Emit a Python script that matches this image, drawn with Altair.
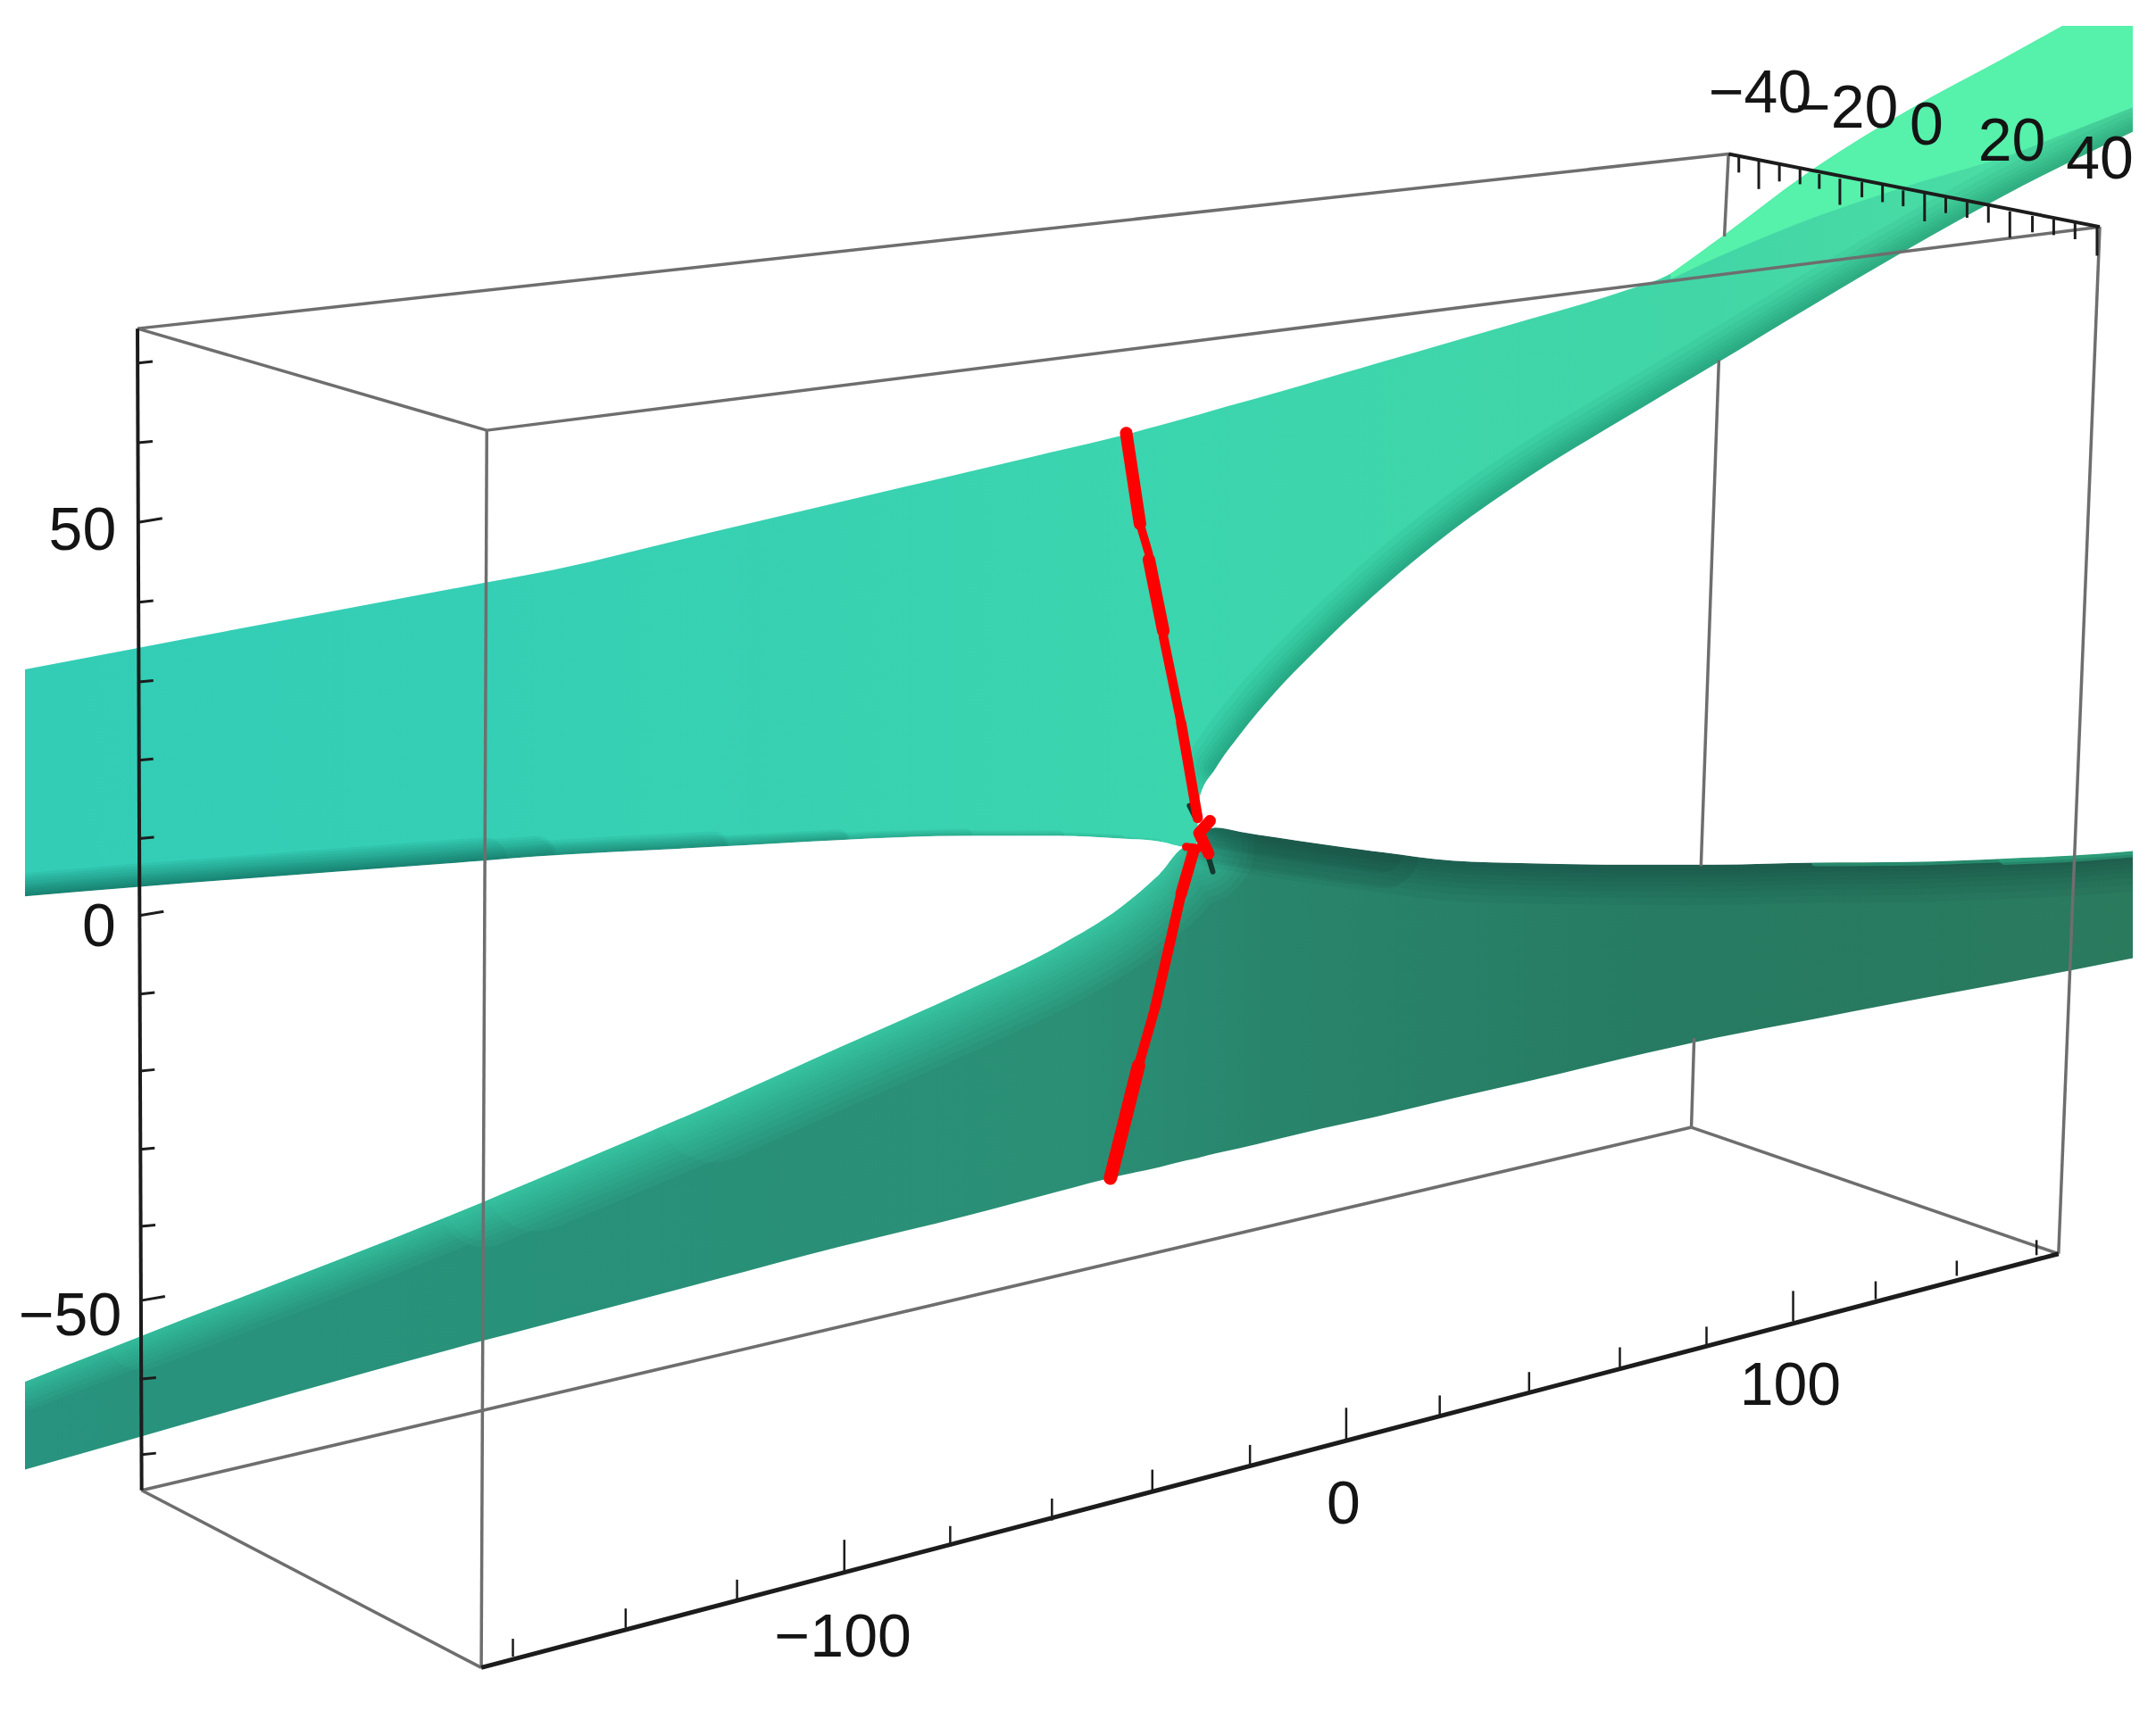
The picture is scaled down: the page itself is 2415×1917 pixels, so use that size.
import altair as alt
import pandas as pd

# All coordinates (projected 3D box, in picture units)
DOM_X = [18.18, 1551]
DOM_Y = [1240, 18.83]

# Both sheets, read at the same x positions
sheet_x = [18, 102, 352, 390, 519, 610, 702, 770, 815, 843, 863, 870, 872, 884, 902, 927, 961, 1006, 1056, 1113, 1180, 1215, 1247, 1320, 1388, 1458, 1505, 1551]
up_top = [487, 471, 424, 417, 386.7, 365.3, 343.7, 327.7, 317, 309.5, 304, 302, 301.5, 298, 293, 286, 276, 263, 248.5, 232, 212, 199, 176, 122, 80, 42, 16, -9]
up_bot = [652, 645, 626, 623, 616, 611, 608, 608, 610, 612, 616, 616, 581.5, 559, 534, 504, 469, 427, 386, 346, 305, 284, 265, 221, 181, 142, 118, 96]
lo_top = [1005, 972, 874, 858, 803, 762, 721, 688, 660, 636, 616, 616, 609, 602, 605, 609, 614, 620, 626, 628, 629, 629, 629, 627.5, 627, 624.5, 622.5, 619]
lo_bot = [1069, 1045, 975, 965, 931, 907, 884.5, 866.5, 855, 849, 844, 842.5, 842, 839, 835, 829, 821, 811, 799, 786, 770, 762, 755, 741, 728, 715, 706, 697]

# Bright face of the upper sheet at top right
face_x = [1215, 1247, 1320, 1388, 1458, 1505, 1551]
face_top = [199, 176, 122, 80, 42, 16, -9]
face_bot = [203, 188, 158, 135, 114, 96, 78]

# Box edges: x, y, x2, y2
edge_x1 = [100, 100, 354, 354, 1527, 103, 103, 1230, 1257, 1250, 1232]
edge_y1 = [239, 239, 313, 313, 165, 1084, 1084, 820, 112, 262, 755]
edge_x2 = [354, 1257, 1527, 350, 1497, 350, 1230, 1497, 1254, 1237, 1230]
edge_y2 = [313, 112, 165, 1213, 912, 1213, 820, 912, 172, 630, 820]
axis_x1 = [100, 350, 1257]
axis_y1 = [239, 1213, 112]
axis_x2 = [103, 1497, 1527]
axis_y2 = [1084, 912, 165]
axis_w = [4, 5, 4]

# Left axis ticks
left_x = [100.5, 100.5, 100.5, 101, 101, 101, 101.5, 101.5, 102, 102, 102, 102.5, 102.5, 103, 103]
left_y = [264, 322, 380, 438, 496, 553, 610, 666, 723, 779, 836, 892, 946, 1003, 1058]
left_tx = [111, 111, 118, 111.5, 111.5, 111.5, 112, 119, 112.5, 112.5, 112.5, 113, 120, 113.5, 113.5]
left_ty = [263, 321, 377, 437, 495, 552, 609, 663, 722, 778, 835, 891, 943, 1002, 1057]

# Bottom axis ticks
bot_x = [373, 455, 536, 614, 691, 765, 838, 909, 979, 1047, 1112, 1178, 1241, 1304, 1364, 1423, 1481]
bot_y = [1205, 1184, 1164, 1145, 1125, 1106, 1085, 1065, 1047, 1029, 1012, 995, 978, 961, 945, 928, 913]
bot_ty = [1192, 1170, 1149, 1120, 1110, 1090, 1069, 1051, 1024, 1015, 998, 980, 965, 939, 932, 917, 902]

# Top axis ticks
top_x = [1264.5, 1279, 1294, 1309, 1323, 1338, 1354, 1369, 1384, 1399.6, 1415, 1430.5, 1446, 1461.6, 1478, 1493.5, 1509, 1525]
top_y = [114, 117, 120, 123, 126.6, 130, 132.5, 135, 138.5, 140.7, 144, 147, 150, 153.7, 157, 159.7, 162, 165.6]
top_ty = [125.5, 137.5, 132, 134, 137.4, 149, 143.5, 147, 150, 161, 155, 158.4, 162, 173, 169, 171, 174, 186]

# Labels
lab_text = ["50", "0", "\u221250", "\u2212100", "0", "100", "\u221240", "\u221220", "0", "20", "40"]
lab_x = [60, 72, 51, 613, 977, 1302, 1280, 1343, 1401, 1463, 1527]
lab_y = [387, 675, 958, 1192, 1095, 1009, 69, 80, 92, 104, 117]

# Red curve, piecewise with its widths
red_x = [[819, 829], [829, 835.5], [835.5, 846], [846, 859], [859, 871], [880, 872, 879], [862.5, 872], [868, 859], [859, 840], [840, 828], [828, 807.5]]
red_y = [[315, 381], [381, 403], [407, 459], [463, 526], [526, 595], [597, 606, 621], [616, 617], [619, 650], [650, 733], [733, 775], [775, 857]]
red_w = [14, 9.5, 14, 10.5, 11.5, 13, 9, 13, 11.5, 11, 15]

# Dark slivers next to the knot
sl_x = [[865, 870], [879, 882]]
sl_y = [[586, 596], [624, 634]]


def grad(stops):
    return alt.Gradient(
        gradient="linear", x1=0, x2=1, y1=0, y2=0,
        stops=[alt.GradientStop(color=c, offset=o) for c, o in stops],
    )


X = alt.X("x:Q", scale=alt.Scale(domain=DOM_X), axis=None)
Y = alt.Y("y:Q", scale=alt.Scale(domain=DOM_Y), axis=None)


def area(xs, ys, y2s, fill):
    d = pd.DataFrame({"x": xs, "y": ys, "y2": y2s})
    return alt.Chart(d).mark_area(orient="vertical", clip=True, fill=fill, interpolate="monotone").encode(
        x=X, y=Y, y2="y2:Q")


def line(xs, ys, color, width, op=1.0, smooth=True):
    d = pd.DataFrame({"x": xs, "y": ys, "i": range(len(xs))})
    return alt.Chart(d).mark_line(color=color, strokeWidth=width, opacity=op, clip=True,
                                  strokeCap="round", strokeJoin="round",
                                  interpolate="monotone" if smooth else "linear").encode(
        x=X, y=Y, order=alt.Order("i:Q"))


def rules(x1, y1, x2, y2, color, width):
    d = pd.DataFrame({"x": x1, "y": y1, "x2": x2, "y2": y2})
    return alt.Chart(d).mark_rule(color=color, strokeWidth=width).encode(x=X, y=Y, x2="x2:Q", y2="y2:Q")


layers = []

# Lower sheet
layers.append(area(sheet_x, lo_top, lo_bot, grad([
    ("#28937e", 0), ("#28917a", 0.22), ("#2a8f75", 0.5), ("#28846b", 0.6), ("#267b62", 0.78), ("#2a7a5e", 1)])))
# light rim along the upper left edge
for w, s in [(130, 4), (116, 3), (102, 2), (88, 2), (76, 1), (64, 0), (54, 0), (44, 0), (36, 0), (28, 0), (20, 0), (14, 0), (8, 0)]:
    layers.append(line(sheet_x[s:12], lo_top[s:12], "#3fe0bc", w, 0.075))
# dark rim along the upper right edge
for w in [90, 74, 60, 48, 38, 28, 20, 12]:
    layers.append(line(sheet_x[13:], lo_top[13:], "#0f3a2e", w, 0.06))
for w in [80, 44]:
    layers.append(line(sheet_x[13:18], lo_top[13:18], "#0f3a2e", w, 0.1))
# light sliver at the right end of that edge
layers.append(line(sheet_x[23:], lo_top[23:], "#2ea781", 8, 0.6))
layers.append(line(sheet_x[25:], lo_top[25:], "#2ea781", 14, 0.6))

# Upper sheet
layers.append(area(sheet_x, up_top, up_bot, grad([
    ("#33cdb6", 0), ("#35cfb5", 0.22), ("#3bd5ae", 0.55), ("#42d6a6", 0.8), ("#4fdfa4", 1)])))
# dark rim along the lower left edge
for w, e in [(52, 3), (46, 4), (40, 4), (34, 5), (28, 5), (24, 6), (20, 6), (16, 7), (12, 8), (8, 9), (5, 10)]:
    layers.append(line(sheet_x[:e], up_bot[:e], "#0f5a4a", w, 0.08))
# dark rim along the lower right edge
for w in [70, 56, 44, 34, 26, 18, 10]:
    layers.append(line(sheet_x[13:], up_bot[13:], "#127058", w, 0.07))
# bright face
layers.append(area(face_x, face_top, face_bot, "#56f1ab"))

# Gap between the sheets
layers.append(area(sheet_x, up_bot, lo_top, "#ffffff"))

# Red curve
for a, b in zip(sl_x, sl_y):
    layers.append(line(a, b, "#14392f", 6, 1, False))
for a, b, w in zip(red_x, red_y, red_w):
    layers.append(line(a, b, "#ff0000", w, 1, False))

# Box
layers.append(rules(edge_x1, edge_y1, edge_x2, edge_y2, "#6e6e6e", 3.5))
for i in range(3):
    layers.append(rules([axis_x1[i]], [axis_y1[i]], [axis_x2[i]], [axis_y2[i]], "#1c1c1c", axis_w[i]))
layers.append(rules(left_x, left_y, left_tx, left_ty, "#1c1c1c", 3))
layers.append(rules(bot_x, bot_y, bot_x, bot_ty, "#1c1c1c", 2.5))
layers.append(rules(top_x, top_y, top_x, top_ty, "#1c1c1c", 3))

# Labels
labels = pd.DataFrame({"x": lab_x, "y": lab_y, "t": lab_text})
layers.append(alt.Chart(labels).mark_text(
    font="Liberation Sans", fontSize=68, color="#141414",
    align="center", baseline="middle").encode(x=X, y=Y, text="t:N"))

chart = alt.layer(*layers).properties(
    width=2361, height=1881,
    padding={"left": 20, "top": 21, "right": 6, "bottom": 0},
    autosize=alt.AutoSizeParams(type="none"),
    background="#ffffff",
).configure_view(stroke=None)

chart.save("out.html", embed_options={"renderer": "svg", "actions": False})
